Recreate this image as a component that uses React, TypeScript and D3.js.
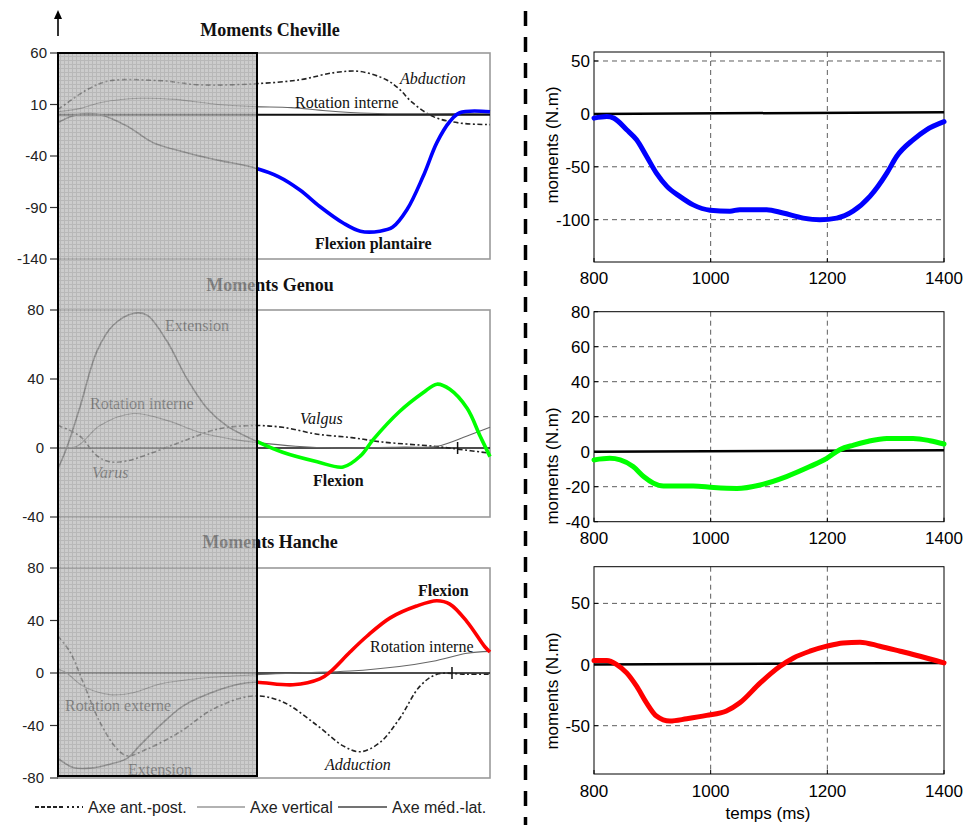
import React from 'react';
import * as d3 from 'd3';

type P = [number, number];

// ---------- Left panels (x = % of cycle) ----------
const chevilleAbduction: P[] = [[0,5],[7,25],[12,33],[24,33],[33,29],[45,30],[56,34],[64,41],[70,42],[76,34],[79,25],[82,12],[87,-2],[93,-8],[100,-9.5]];
const chevilleRotation: P[] = [[0,3],[5,6],[10,12],[19,16],[27,15],[37,10],[45,8],[54,7],[62,4],[72,1.5],[85,1],[100,1.5]];
const chevilleFlexion: P[] = [[0,-7.5],[4.4,0],[9.7,0],[16,-11],[22,-27],[30,-37],[37,-44],[45,-51],[51,-60],[56,-73],[60.6,-89],[66,-105],[70,-113],[74.5,-113],[77.5,-109],[80.8,-92],[84.5,-60],[87.7,-27],[90.7,-6.5],[93,2],[100,3]];

const genouValgus: P[] = [[0,13],[5,7],[9,-4.5],[12,-8],[16,-7.5],[21,-3.5],[29,4],[37,11],[45,13],[52,12],[60,8],[68,6],[75,3.5],[87,1],[92,-0.5],[100,-3]];
const genouRotation: P[] = [[0,0],[4.4,1],[9.7,13],[17.4,20],[25.2,16],[32.9,9],[40.5,5],[45,3.5],[55,1],[65,0],[80,0.5],[87.7,1],[94.7,7],[100,12]];
const genouExtension: P[] = [[0,-12],[2,0],[5,23],[9,56],[12.7,71],[17.4,78],[20.6,77],[25.2,62],[29.9,40],[34.5,23],[39,13],[45,5],[52,-2.5],[60,-8],[66,-11],[70,-4.6],[73,5],[79,21],[84.5,32],[87.7,37],[90.7,34],[94.7,23],[97.7,7],[100,-5]];

const hancheAdduction: P[] = [[0,28],[2.8,16],[5.8,-7],[9.7,-37.5],[13.7,-58],[16,-63],[20.6,-58],[28.2,-45],[35.9,-27.5],[45,-17.5],[52,-22],[60,-40],[66,-55.5],[70,-60],[74.5,-53],[79,-35],[83.8,-10],[87.7,-1],[94.7,-1],[100,-1]];
const hancheRotation: P[] = [[0,3],[2,0],[5.8,-10],[12,-16.5],[17.4,-15],[23.6,-8.4],[33,-4],[45,-1.5],[56,0],[67.6,1.5],[79,5],[86.8,9],[94.7,15],[100,16.5]];
const hancheFlexion: P[] = [[0,-65],[3.5,-72],[7.4,-72.5],[12,-69.5],[16,-65],[19,-55],[23.6,-40],[29,-25],[35.9,-14.5],[42,-8.4],[45.6,-7],[54.4,-9],[60.6,-4.5],[63,0.8],[67.6,16],[71.5,28],[76.9,42],[83,51],[87.7,55],[90.7,52.5],[94.7,39],[98.8,20],[100,16]];

const chevilleTicks = [60, 10, -40, -90, -140];
const genouTicks = [80, 40, 0, -40];
const hancheTicks = [80, 40, 0, -40, -80];

// ---------- Right panels (MATLAB) ----------
const timeTicks = [800, 1000, 1200, 1400];
const chevilleTime = [800,822,834,856,873,890,907,925,947,970,999,1033,1050,1096,1124,1159,1187,1216,1244,1273,1302,1319,1347,1370,1400];
const chevilleMoment = [-4,-2.5,-4,-15,-24.5,-40,-56,-68.5,-78,-86,-91,-92,-90.5,-90.5,-93.7,-98.5,-100,-98.5,-92,-78,-56,-40,-24.5,-15,-7.3];
const genouTime = [800,827,845,867,885,902,919,970,1005,1045,1085,1130,1170,1199,1222,1245,1267,1302,1347,1376,1400];
const genouMoment = [-4.7,-3.8,-4.7,-8.5,-14.2,-18,-19.6,-19.6,-20.5,-21,-19,-14.2,-8.5,-3.8,1.3,3.8,5.7,7.6,7.6,6.3,4.4];
const hancheTime = [800,822,839,856,873,890,907,930,959,993,1027,1050,1085,1119,1142,1170,1199,1227,1256,1290,1325,1359,1400];
const hancheMoment = [3.3,3.3,0,-6.8,-17.7,-31.3,-42.1,-46.2,-44.3,-41.6,-38,-31.3,-15,-1.4,5.4,10.9,15,17.7,18.3,15,10.9,6.8,1.4];
const rightTicks1 = [50, 0, -50, -100];
const rightTicks2 = [80, 60, 40, 20, 0, -20, -40];
const rightTicks3 = [50, 0, -50];

const SERIF = '"Liberation Serif", "Times New Roman", serif';
const SANS = '"Liberation Sans", Arial, Helvetica, sans-serif';

const xL = d3.scaleLinear().domain([0, 100]).range([58, 490]);
const SHADE_X = 257;

type Curve = { data: P[]; kind: 'ap' | 'vert' | 'ml'; color?: string };

function LeftPanel(props: {
  id: string; domain: [number, number]; range: [number, number]; ticks: number[];
  curves: Curve[]; labelRight: number; thickZero?: number; marks?: number[];
}) {
  const y = d3.scaleLinear().domain(props.domain).range(props.range);
  const line = d3.line<P>().x(d => xL(d[0])).y(d => y(d[1])).curve(d3.curveCatmullRom.alpha(0.5));
  const top = props.range[1], bot = props.range[0];
  return (
    <g>
      <rect x={xL(0)} y={top} width={xL(100) - xL(0)} height={bot - top} fill="none" stroke="#9a9a9a" strokeWidth={1.6} />
      <line x1={xL(0)} x2={xL(100)} y1={y(0)} y2={y(0)} stroke="#111" strokeWidth={props.thickZero || 1.5} />
      {(props.marks || []).map((m, i) => (
        <line key={i} x1={xL(m)} x2={xL(m)} y1={y(0) - 6} y2={y(0) + 6} stroke="#111" strokeWidth={1.5} />
      ))}
      {props.ticks.map(t => (
        <g key={t}>
          <line x1={50} x2={58} y1={y(t)} y2={y(t)} stroke="#333" strokeWidth={1.2} />
          <text x={props.labelRight} y={y(t) + 5} textAnchor="end" fontFamily={SANS} fontSize={15} fill="#222">{t}</text>
        </g>
      ))}
      {props.curves.map((c, i) => {
        const d = line(c.data) || '';
        if (c.kind === 'ap') {
          return <path key={i} d={d} fill="none" stroke="#222" strokeWidth={1.6} strokeDasharray="5,2.5,2,2.5" />;
        }
        if (c.kind === 'vert') {
          return <path key={i} d={d} fill="none" stroke="#666" strokeWidth={1.1} />;
        }
        return (
          <g key={i}>
            <path d={d} fill="none" stroke="#444" strokeWidth={1.6} clipPath="url(#leftClip)" />
            <path d={d} fill="none" stroke={c.color} strokeWidth={3.6} strokeLinejoin="round" clipPath="url(#rightClip)" />
          </g>
        );
      })}
    </g>
  );
}

function RightPanel(props: {
  top: number; bottom: number; domain: [number, number]; ticks: number[];
  time: number[]; moment: number[]; color: string; zeroEnd: number;
  ylabelY: number; tickLabelY: number; xlabel?: boolean;
}) {
  const x = d3.scaleLinear().domain([800, 1400]).range([594, 944]);
  const y = d3.scaleLinear().domain(props.domain).range([props.bottom, props.top]);
  const pts: P[] = props.time.map((t, i) => [t, props.moment[i]]);
  const line = d3.line<P>().x(d => x(d[0])).y(d => y(d[1])).curve(d3.curveMonotoneX);
  const zero: P[] = [[800, 0], [1400, props.zeroEnd]];
  const zline = d3.line<P>().x(d => x(d[0])).y(d => y(d[1]));
  return (
    <g>
      {timeTicks.filter(t => t > 800 && t < 1400).map(t => (
        <line key={'gx' + t} x1={x(t)} x2={x(t)} y1={props.top} y2={props.bottom} stroke="#333" strokeWidth={0.8} strokeDasharray="5,4" />
      ))}
      {props.ticks.filter(t => t !== 0 && y(t) > props.top + 1 && y(t) < props.bottom - 1).map(t => (
        <line key={'gy' + t} x1={594} x2={944} y1={y(t)} y2={y(t)} stroke="#333" strokeWidth={0.8} strokeDasharray="5,4" />
      ))}
      <rect x={594} y={props.top} width={350} height={props.bottom - props.top} fill="none" stroke="#000" strokeWidth={1} />
      {timeTicks.map(t => (
        <g key={'tx' + t}>
          <line x1={x(t)} x2={x(t)} y1={props.bottom} y2={props.bottom - 4} stroke="#000" strokeWidth={1} />
          <text x={x(t)} y={props.tickLabelY} textAnchor="middle" fontFamily={SANS} fontSize={17} fill="#000">{t}</text>
        </g>
      ))}
      {props.ticks.map(t => (
        <g key={'ty' + t}>
          <line x1={594} x2={598} y1={y(t)} y2={y(t)} stroke="#000" strokeWidth={1} />
          <text x={590} y={y(t) + 6} textAnchor="end" fontFamily={SANS} fontSize={17} fill="#000">{t}</text>
        </g>
      ))}
      <path d={zline(zero) || ''} stroke="#000" strokeWidth={2.5} fill="none" />
      <path d={line(pts) || ''} fill="none" stroke={props.color} strokeWidth={5} strokeLinejoin="round" strokeLinecap="round" />
      <text transform={`translate(558,${props.ylabelY}) rotate(-90)`} textAnchor="middle" fontFamily={SANS} fontSize={17} fill="#000">moments (N.m)</text>
      {props.xlabel && (
        <text x={768} y={819} textAnchor="middle" fontFamily={SANS} fontSize={17} fill="#000">temps (ms)</text>
      )}
    </g>
  );
}

export default function App() {
  const lbl = (x: number, y: number, s: string, opts: { b?: boolean; i?: boolean } = {}) => (
    <text x={x} y={y} fontFamily={SERIF} fontSize={16} fontWeight={opts.b ? 'bold' : 'normal'} fontStyle={opts.i ? 'italic' : 'normal'} fill="#111">{s}</text>
  );
  return (
    <svg width={968} height={825} style={{ position: 'absolute', left: 0, top: 0, background: '#fff' }}>
      <defs>
        <pattern id="grid" width="4" height="4" patternUnits="userSpaceOnUse">
          <rect width="4" height="4" fill="#b8b8b8" />
          <path d="M0 0.5H4M0.5 0V4" stroke="#9c9c9c" strokeWidth="1" />
        </pattern>
        <clipPath id="leftClip"><rect x={0} y={0} width={SHADE_X} height={825} /></clipPath>
        <clipPath id="rightClip"><rect x={SHADE_X} y={0} width={300} height={825} /></clipPath>
      </defs>
      <rect x={0} y={0} width={968} height={825} fill="#fff" />

      {/* arrow */}
      <line x1={58} x2={58} y1={17} y2={36} stroke="#000" strokeWidth={1.6} />
      <path d="M58,10 L54,19 L62,19 Z" fill="#000" />

      {/* titles */}
      <text x={270} y={36} textAnchor="middle" fontFamily={SERIF} fontWeight="bold" fontSize={18} fill="#111">Moments Cheville</text>
      <text x={270} y={291} textAnchor="middle" fontFamily={SERIF} fontWeight="bold" fontSize={18} fill="#111">Moments Genou</text>
      <text x={270} y={548} textAnchor="middle" fontFamily={SERIF} fontWeight="bold" fontSize={18} fill="#111">Moments Hanche</text>

      <LeftPanel id="c" domain={[-140, 60]} range={[259, 53]} ticks={chevilleTicks} labelRight={47} thickZero={2}
        curves={[{ data: chevilleAbduction, kind: 'ap' }, { data: chevilleRotation, kind: 'vert' }, { data: chevilleFlexion, kind: 'ml', color: '#0000ff' }]} />
      <LeftPanel id="g" domain={[-40, 80]} range={[517, 310]} ticks={genouTicks} labelRight={44} marks={[46, 92.5]}
        curves={[{ data: genouValgus, kind: 'ap' }, { data: genouRotation, kind: 'vert' }, { data: genouExtension, kind: 'ml', color: '#00ff00' }]} />
      <LeftPanel id="h" domain={[-80, 80]} range={[778, 568]} ticks={hancheTicks} labelRight={44} marks={[46, 91.2]}
        curves={[{ data: hancheAdduction, kind: 'ap' }, { data: hancheRotation, kind: 'vert' }, { data: hancheFlexion, kind: 'ml', color: '#ff0000' }]} />

      {/* curve labels */}
      {lbl(400, 84, 'Abduction', { i: true })}
      {lbl(295, 108, 'Rotation interne')}
      {lbl(315, 249, 'Flexion plantaire', { b: true })}
      {lbl(165, 331, 'Extension')}
      {lbl(90, 409, 'Rotation interne')}
      {lbl(300, 424, 'Valgus', { i: true })}
      {lbl(92, 478, 'Varus', { i: true })}
      {lbl(313, 486, 'Flexion', { b: true })}
      {lbl(418, 596, 'Flexion', { b: true })}
      {lbl(370, 652, 'Rotation interne')}
      {lbl(65, 711, 'Rotation externe')}
      {lbl(128, 775, 'Extension')}
      {lbl(325, 770, 'Adduction', { i: true })}

      {/* shaded overlay */}
      <rect x={58} y={53} width={SHADE_X - 58} height={776 - 53} fill="url(#grid)" opacity={0.72} />
      <rect x={58} y={53} width={SHADE_X - 58} height={776 - 53} fill="none" stroke="#000" strokeWidth={2} />

      {/* legend */}
      <line x1={35} x2={64} y1={807} y2={807} stroke="#222" strokeWidth={2.2} strokeDasharray="4,2" />
      <line x1={67} x2={83} y1={807} y2={807} stroke="#222" strokeWidth={2.2} strokeDasharray="2,3" />
      <text x={88} y={813} fontFamily={SANS} fontSize={16} fill="#222">Axe ant.-post.</text>
      <line x1={197} x2={245} y1={807} y2={807} stroke="#666" strokeWidth={1.2} />
      <text x={250} y={813} fontFamily={SANS} fontSize={16} fill="#222">Axe vertical</text>
      <line x1={338} x2={387} y1={807} y2={807} stroke="#444" strokeWidth={1.6} />
      <text x={392} y={813} fontFamily={SANS} fontSize={16} fill="#222">Axe méd.-lat.</text>

      {/* separator */}
      <line x1={525.5} x2={525.5} y1={11} y2={825} stroke="#000" strokeWidth={3.5} strokeDasharray="15,11" />

      <RightPanel top={52} bottom={262} domain={[-140, 58.5]} ticks={rightTicks1} time={chevilleTime} moment={chevilleMoment}
        color="#0000ff" zeroEnd={1.5} ylabelY={145} tickLabelY={284} />
      <RightPanel top={311.7} bottom={521.7} domain={[-40, 80]} ticks={rightTicks2} time={genouTime} moment={genouMoment}
        color="#00ff00" zeroEnd={0.8} ylabelY={466} tickLabelY={544} />
      <RightPanel top={566.7} bottom={774} domain={[-89.5, 80]} ticks={rightTicks3} time={hancheTime} moment={hancheMoment}
        color="#ff0000" zeroEnd={1.2} ylabelY={691} tickLabelY={797} xlabel />
    </svg>
  );
}
